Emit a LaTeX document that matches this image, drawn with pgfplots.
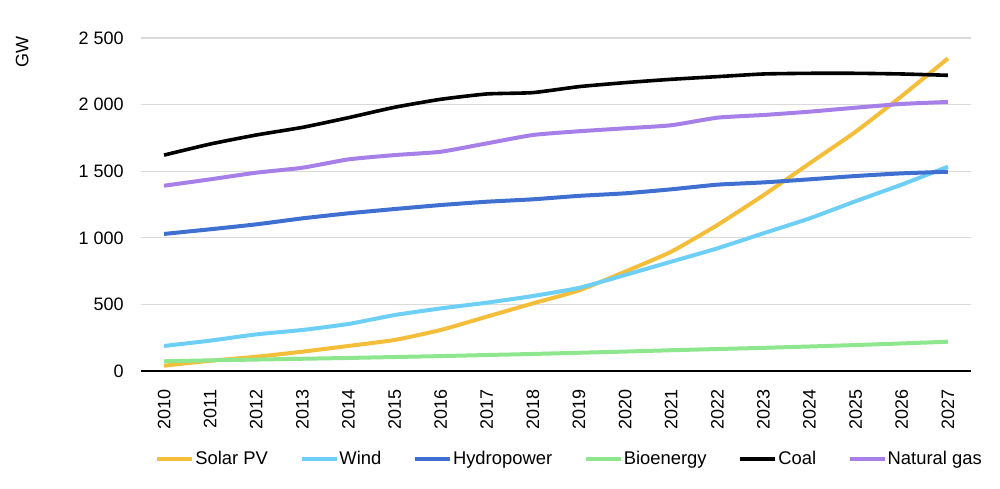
\documentclass[border=0pt]{standalone}
\usepackage{pgfplots}
\pgfplotsset{compat=1.18}
\usepackage{fontspec}
\setmainfont{Liberation Sans}

\definecolor{solar}{HTML}{F5BE3A}
\definecolor{wind}{HTML}{6DCFF6}
\definecolor{hydro}{HTML}{3F6FD0}
\definecolor{bio}{HTML}{8EE68E}
\definecolor{gas}{HTML}{A77FE8}
\definecolor{gridc}{HTML}{DADADA}

\begin{document}
\begin{tikzpicture}
% page frame: 1 px of the reference = 0.5pt
\useasboundingbox (-70.5pt,-58.5pt) rectangle (429.5pt,185.5pt);
\begin{axis}[%
	at={(0,0)}, anchor=south west,
	scale only axis,
	width=415pt, height=166.5pt,
	xmin=2009.5, xmax=2027.5,
	ymin=0, ymax=2500,
	xtick={2010,...,2027},
	ytick={0,500,...,2500},
	major tick length=0pt,
	ymajorgrids,
	grid style={gridc, line width=0.6pt},
	separate axis lines,
	axis x line*=bottom,
	axis y line*=left,
	x axis line style={black, line width=0.8pt, -},
	y axis line style={draw=none},
	font=\fontsize{9}{10}\selectfont,
	/pgf/number format/assume math mode=true,
	x tick label style={/pgf/number format/1000 sep={}, yshift=-9pt, rotate=90, anchor=east, inner sep=0pt},
	y tick label style={/pgf/number format/1000 sep={\ }, anchor=east, inner sep=0pt, xshift=-8.5pt},
	ylabel=GW,
	ylabel style={at={(axis description cs:-0.143,0.958)}, anchor=center},
	legend columns=6,
	legend cell align=left,
	legend image code/.code={\draw[#1, line width=2pt] (0pt,0pt) -- (17.5pt,0pt);},
	legend style={draw=none, font=\fontsize{9.2}{10}\selectfont,
		at={(axis description cs:0.5157,-0.264)}, anchor=center,
		nodes={inner sep=0.4pt},
		/tikz/every even column/.append style={column sep=15.5pt}},
	every axis plot/.append style={line width=2pt, smooth, tension=0.3},
]
%%% Solar PV
\addplot[color=solar] coordinates {
(2010,40) (2011,77) (2012,107) (2013,145) (2014,188) (2015,233) (2016,308) (2017,408) (2018,508)
(2019,605) (2020,746) (2021,896) (2022,1096) (2023,1320) (2024,1559) (2025,1797) (2026,2065) (2027,2347)
};
\addlegendentry{Solar PV}
%%% Wind
\addplot[color=wind] coordinates {
(2010,188) (2011,228) (2012,275) (2013,308) (2014,353) (2015,420) (2016,470) (2017,513) (2018,563)
(2019,624) (2020,721) (2021,821) (2022,921) (2023,1034) (2024,1146) (2025,1275) (2026,1400) (2027,1534)
};
\addlegendentry{Wind}
%%% Hydropower
\addplot[color=hydro] coordinates {
(2010,1029) (2011,1064) (2012,1101) (2013,1146) (2014,1184) (2015,1216) (2016,1246) (2017,1271) (2018,1289)
(2019,1315) (2020,1334) (2021,1364) (2022,1399) (2023,1416) (2024,1439) (2025,1464) (2026,1484) (2027,1496)
};
\addlegendentry{Hydropower}
%%% Bioenergy
\addplot[color=bio] coordinates {
(2010,73) (2011,80) (2012,86) (2013,92) (2014,98) (2015,105) (2016,112) (2017,120) (2018,128)
(2019,137) (2020,146) (2021,156) (2022,165) (2023,174) (2024,184) (2025,195) (2026,207) (2027,220)
};
\addlegendentry{Bioenergy}
%%% Coal
\addplot[color=black, line width=1.8pt] coordinates {
(2010,1621) (2011,1704) (2012,1772) (2013,1829) (2014,1902) (2015,1980) (2016,2040) (2017,2080) (2018,2090)
(2019,2135) (2020,2165) (2021,2190) (2022,2210) (2023,2230) (2024,2235) (2025,2235) (2026,2230) (2027,2220)
};
\addlegendentry{Coal}
%%% Natural gas
\addplot[color=gas] coordinates {
(2010,1391) (2011,1439) (2012,1489) (2013,1526) (2014,1589) (2015,1621) (2016,1646) (2017,1709) (2018,1772)
(2019,1800) (2020,1822) (2021,1845) (2022,1902) (2023,1922) (2024,1947) (2025,1977) (2026,2005) (2027,2020)
};
\addlegendentry{Natural gas}
\end{axis}
\end{tikzpicture}
\end{document}
